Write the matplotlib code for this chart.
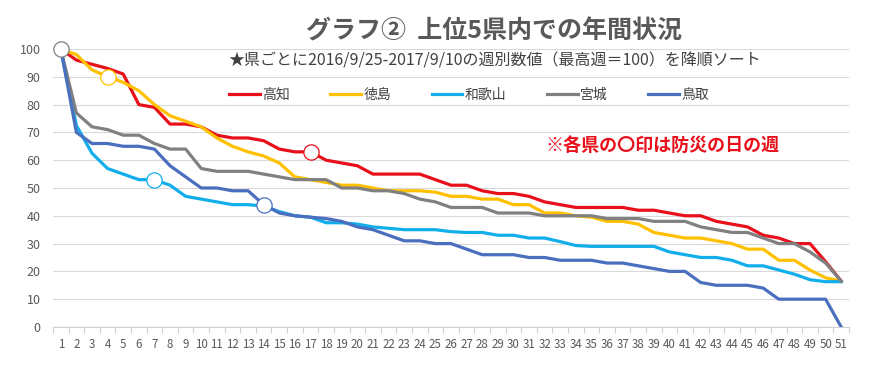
import numpy as np
import matplotlib
matplotlib.use('Agg')
import matplotlib.pyplot as plt

plt.rcParams['font.family'] = ['Noto Sans CJK JP', 'DejaVu Sans']

weeks = list(range(1, 52))

kochi = [100, 96, 94.5, 93, 91, 80, 79, 73, 73, 72, 69, 68, 68, 67, 64, 63, 63, 60, 59, 58,
         55, 55, 55, 55, 53, 51, 51, 49, 48, 48, 47, 45, 44, 43, 43, 43, 43, 42, 42, 41,
         40, 40, 38, 37, 36, 33, 32, 30, 30, 23.5, 16.5]
tokushima = [100, 98, 92.5, 90, 88, 85, 80, 76, 74, 72, 68, 65, 63, 61.5, 59, 54, 53, 52, 51, 51,
             50, 49, 49, 49, 48.5, 47, 47, 46, 46, 44, 44, 41, 41, 40, 39.5, 38, 38, 37, 34, 33,
             32, 32, 31, 30, 28, 28, 24, 24, 20.5, 17.7, 16.5]
wakayama = [100, 72.5, 62.5, 57, 55, 53, 53, 51, 47, 46, 45, 44, 44, 43.5, 41.5, 40, 39.5, 37.5, 37.5, 37,
            36, 35.5, 35, 35, 35, 34.3, 34, 34, 33, 33, 32, 32, 30.7, 29.3, 29, 29, 29, 29, 29, 27,
            26, 25, 25, 24, 22, 22, 20.5, 19, 17, 16.3, 16.3]
miyagi = [100, 77, 72, 71, 69, 69, 66, 64, 64, 57, 56, 56, 56, 55, 54, 53, 53, 53, 50, 50,
          49, 49, 48, 46, 45, 43, 43, 43, 41, 41, 41, 40, 40, 40, 40, 39, 39, 39, 38, 38,
          38, 36, 35, 34, 34, 32, 30, 30, 27, 23, 16.5]
tottori = [100, 70, 66, 66, 65, 65, 64, 58, 54, 50, 50, 49, 49, 44, 41, 40, 39.5, 39, 38, 36,
           35, 33, 31, 31, 30, 30, 28, 26, 26, 26, 25, 25, 24, 24, 24, 23, 23, 22, 21, 20,
           20, 16, 15, 15, 15, 14, 10, 10, 10, 10, 0]

names = ['高知', '徳島', '和歌山', '宮城', '鳥取']
series = [kochi, tokushima, wakayama, miyagi, tottori]
colors = ['#E8101A', '#FFC000', '#12AEEC', '#808080', '#4A6FBF']
# week of 防災の日 for each prefecture (circle marker)
bousai_week = [17, 4, 7, 1, 14]

fig = plt.figure(figsize=(8.74, 3.74), dpi=100)
ax = fig.add_axes([0.0606, 0.1257, 0.9108, 0.7433])

for name, vals, c in zip(names, series, colors):
    ax.plot(weeks, vals, color=c, lw=2.3, label=name, solid_joinstyle='round', zorder=3)

for vals, c, w in zip(series, colors, bousai_week):
    ax.plot(w, vals[w - 1], 'o', ms=11, mfc='white', mec=c, mew=0.9, zorder=5, clip_on=False)

ax.set_xlim(0.5, 51.5)
ax.set_ylim(0, 100)
ax.set_yticks(np.arange(0, 101, 10))
ax.set_xticks(weeks)
ax.set_xticks(np.arange(0.5, 52, 1), minor=True)
ax.grid(axis='y', color='#D9D9D9', lw=0.8)
ax.set_axisbelow(True)
for s in ['left', 'right', 'top']:
    ax.spines[s].set_visible(False)
ax.spines['bottom'].set_color('#D0D0D0')
ax.spines['bottom'].set_linewidth(0.8)
ax.tick_params(axis='y', length=0, pad=9, labelsize=9, labelcolor='#595959')
ax.tick_params(axis='x', which='major', length=0, pad=8, labelsize=8.3, labelcolor='#595959')
ax.tick_params(axis='x', which='minor', length=4, color='#D0D0D0', width=0.8)

fig.text(0.565, 0.917, 'グラフ②  上位5県内での年間状況', ha='center', va='center',
         fontsize=18, fontweight='bold', color='#595959')
fig.text(0.261, 0.837, '★県ごとに2016/9/25-2017/9/10の週別数値（最高週＝100）を降順ソート',
         ha='left', va='center', fontsize=11.5, color='#404040')
fig.text(0.6236, 0.610, '※各県の〇印は防災の日の週', ha='left', va='center',
         fontsize=13, fontweight='bold', color='#E8101A')

fig.legend(loc='center left', bbox_to_anchor=(0.262, 0.746), ncol=5, frameon=False,
           fontsize=10, handlelength=2.2, handletextpad=0.2, columnspacing=2.9,
           borderpad=0, borderaxespad=0, labelcolor='#404040')

fig.savefig('out.png', dpi=100)
